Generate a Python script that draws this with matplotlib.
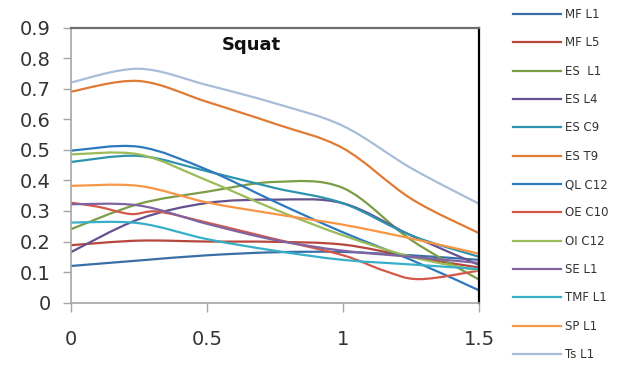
import matplotlib.pyplot as plt
import numpy as np
from matplotlib.path import Path
from matplotlib.patches import PathPatch
from matplotlib.lines import Line2D

plt.rcParams['font.family'] = ['DejaVu Sans']

# distance (x) values
x = [0, 0.25, 0.5, 0.75, 1.0, 1.25, 1.5]
# OE C10 was read at its own points (it has a small dip near 0.2)
x_oe = [0, 0.1, 0.22, 0.32, 0.5, 0.75, 1.0, 1.15, 1.28, 1.5]

labels = ['MF L1', 'MF L5', 'ES  L1', 'ES L4', 'ES C9', 'ES T9', 'QL C12',
          'OE C10', 'OI C12', 'SE L1', 'TMF L1', 'SP L1', 'Ts L1']

mf_l1 = [0.12, 0.138, 0.155, 0.165, 0.166, 0.155, 0.14]
mf_l5 = [0.188, 0.203, 0.2, 0.199, 0.19, 0.15, 0.115]
es_l1 = [0.24, 0.323, 0.363, 0.395, 0.375, 0.205, 0.075]
es_l4 = [0.165, 0.273, 0.326, 0.337, 0.325, 0.22, 0.123]
es_c9 = [0.46, 0.48, 0.43, 0.375, 0.325, 0.22, 0.15]
es_t9 = [0.69, 0.725, 0.657, 0.585, 0.505, 0.34, 0.227]
ql_c12 = [0.497, 0.51, 0.435, 0.33, 0.23, 0.14, 0.04]
oe_c10 = [0.327, 0.314, 0.29, 0.298, 0.262, 0.208, 0.155, 0.105, 0.077, 0.105]
oi_c12 = [0.485, 0.485, 0.40, 0.305, 0.22, 0.15, 0.105]
se_l1 = [0.322, 0.318, 0.258, 0.205, 0.17, 0.15, 0.13]
tmf_l1 = [0.262, 0.26, 0.208, 0.17, 0.14, 0.125, 0.11]
sp_l1 = [0.382, 0.382, 0.328, 0.29, 0.255, 0.21, 0.16]
ts_l1 = [0.72, 0.765, 0.712, 0.652, 0.578, 0.44, 0.323]

series = [mf_l1, mf_l5, es_l1, es_l4, es_c9, es_t9, ql_c12,
          oe_c10, oi_c12, se_l1, tmf_l1, sp_l1, ts_l1]

colors = ['#3A6FA6', '#B7473D', '#7A9D45', '#65518E', '#2E93AD', '#E07B35',
          '#2D79BE', '#D5574A', '#9BBB59', '#8064A2', '#38AFC9', '#F79646',
          '#A7BDDA']


def smooth_path(xs, ys):
    # Excel-style smoothed line: bezier segments through the points
    p = np.column_stack([xs, ys]).astype(float)
    p_ext = np.vstack([p[0], p, p[-1]])
    verts = [p[0]]
    codes = [Path.MOVETO]
    for i in range(len(p) - 1):
        p0, p1, p2, p3 = p_ext[i], p_ext[i + 1], p_ext[i + 2], p_ext[i + 3]
        c1 = p1 + (p2 - p0) / 6
        c2 = p2 - (p3 - p1) / 6
        verts += [c1, c2, p2]
        codes += [Path.CURVE4] * 3
    return Path(verts, codes)


fig = plt.figure(figsize=(6.26, 3.65), dpi=100)
ax = fig.add_axes([70.7 / 626, 1 - 302.7 / 365, 408.6 / 626, 275.2 / 365])

handles = []
for ys, c, lab in zip(series, colors, labels):
    xs = x_oe if ys is oe_c10 else x
    ax.add_patch(PathPatch(smooth_path(xs, ys), fill=False, edgecolor=c,
                           lw=1.6, capstyle='round'))
    handles.append(Line2D([], [], color=c, lw=1.6, label=lab))

ax.set_xlim(0, 1.5)
ax.set_ylim(0, 0.9)
ax.set_xticks([0, 0.5, 1, 1.5])
ax.set_xticklabels(['0', '0.5', '1', '1.5'])
ax.set_yticks(np.arange(0, 0.91, 0.1))
ax.set_yticklabels(['0', '0.1', '0.2', '0.3', '0.4', '0.5', '0.6', '0.7',
                    '0.8', '0.9'])
ax.tick_params(axis='x', direction='out', length=6.5, width=1,
               color='#A6A6A6', pad=13, labelsize=14, labelcolor='#333333')
ax.tick_params(axis='y', direction='out', length=5.5, width=1,
               color='#A6A6A6', pad=9, labelsize=14, labelcolor='#333333')

ax.spines['left'].set_color('#A6A6A6')
ax.spines['bottom'].set_color('#A6A6A6')
ax.spines['left'].set_linewidth(1.2)
ax.spines['bottom'].set_linewidth(1.2)
ax.spines['top'].set_color('#6E6E6E')
ax.spines['top'].set_linewidth(1.6)
ax.spines['right'].set_color('#000000')
ax.spines['right'].set_linewidth(1.6)

ax.text(0.443, 0.936, 'Squat', transform=ax.transAxes, ha='center',
        va='center', fontsize=13, fontweight='bold', color='#111111')

fig.legend(handles=handles, loc='upper left',
           bbox_to_anchor=(513 / 626, 1 - 8 / 365), frameon=False,
           fontsize=8.5, labelspacing=1.3, handlelength=4.1,
           handletextpad=0.3, borderpad=0, borderaxespad=0,
           labelcolor='#333333')

fig.savefig('out.png', dpi=100)
